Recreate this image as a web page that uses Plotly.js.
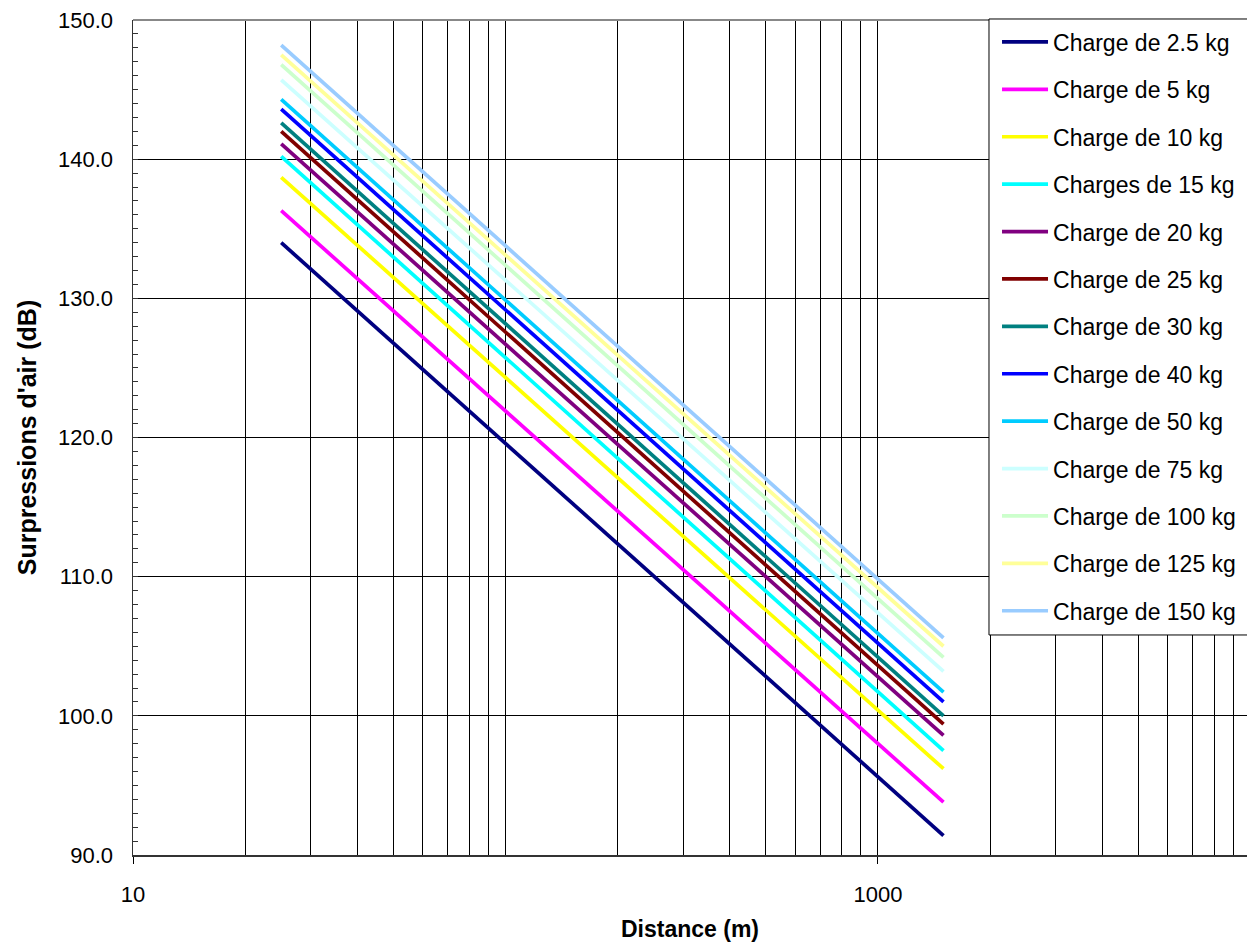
<!DOCTYPE html>
<html><head><meta charset="utf-8">
<script src="https://cdn.plot.ly/plotly-3.0.1.min.js"></script>
<style>html,body{margin:0;padding:0;background:#fff}</style>
</head><body>
<div id="chart" style="width:1247px;height:948px"></div>
<script>
// Distances (m) at the ends of each straight (log-x) line
const distance = [25, 1500];

// Air overpressure (dB) read at 25 m and 1500 m
const charge2_5 = [134.0, 91.4];
const charge5   = [136.3, 93.8];
const charge10  = [138.7, 96.2];
const charge15  = [140.2, 97.5];
const charge20  = [141.1, 98.6];
const charge25  = [142.0, 99.4];
const charge30  = [142.6, 100.0];
const charge40  = [143.6, 101.0];
const charge50  = [144.3, 101.7];
const charge75  = [145.7, 103.2];
const charge100 = [146.8, 104.2];
const charge125 = [147.5, 105.0];
const charge150 = [148.2, 105.6];

const seriesNames = ["Charge de 2.5 kg","Charge de 5 kg","Charge de 10 kg","Charges de 15 kg",
  "Charge de 20 kg","Charge de 25 kg","Charge de 30 kg","Charge de 40 kg","Charge de 50 kg",
  "Charge de 75 kg","Charge de 100 kg","Charge de 125 kg","Charge de 150 kg"];
const seriesValues = [charge2_5, charge5, charge10, charge15, charge20, charge25, charge30,
  charge40, charge50, charge75, charge100, charge125, charge150];
const seriesColors = ["#000080","#FF00FF","#FFFF00","#00FFFF","#800080","#800000","#008080",
  "#0000FF","#00CCFF","#CCFFFF","#CCFFCC","#FFFF99","#99CCFF"];

const xTickVals = [10, 1000];
const xTickText = ["10", "1000"];
const xGridVals = [20,30,40,50,60,70,80,90,100,200,300,400,500,600,700,800,900,
  2000,3000,4000,5000,6000,7000,8000,9000];
const yTickVals = [90,100,110,120,130,140,150];

const FONT = "Arial, 'Liberation Sans', sans-serif";

const traces = seriesNames.map((n, i) => ({
  x: distance, y: seriesValues[i], name: n, type: "scatter", mode: "lines",
  legendgroup: "g" + i,
  line: {color: seriesColors[i], width: 3.7}
}));

const layout = {
  width: 1247, height: 948,
  margin: {l: 133, r: 0, t: 20, b: 93, pad: 0},
  paper_bgcolor: "#fff", plot_bgcolor: "#fff",
  font: {family: FONT, color: "#000", size: 22},
  showlegend: true,
  legend: {
    x: 0.7756, y: 0.9994, xanchor: "left", yanchor: "top",
    bgcolor: "rgba(0,0,0,0)", borderwidth: 0, maxheight: 800,
    font: {family: FONT, size: 23, color: "#000"},
    itemwidth: 46, tracegroupgap: 14.5, traceorder: "grouped"
  },
  xaxis: {
    type: "log", range: [1, 3.991],
    tickvals: xTickVals, ticktext: xTickText,
    ticks: "outside", ticklen: 7, tickcolor: "#000", tickwidth: 1,
    showgrid: true, gridcolor: "#000", gridwidth: 1,
    minor: {tickvals: xGridVals, showgrid: true, gridcolor: "#000", gridwidth: 1, ticks: ""},
    showline: true, linecolor: "#333", linewidth: 1.5,
    zeroline: false, ticklabelstandoff: 12,
    tickfont: {family: FONT, size: 22},
    title: {text: "<b>Distance (m)</b>", font: {family: FONT, size: 23}, standoff: 15}
  },
  yaxis: {
    range: [90, 150], tickvals: yTickVals, tickformat: ".1f",
    ticks: "inside", ticklen: 5, tickcolor: "#333",
    minor: {dtick: 1, ticks: "inside", ticklen: 5, tickcolor: "#333", showgrid: false},
    showgrid: true, gridcolor: "#000", gridwidth: 1,
    showline: true, linecolor: "#333", linewidth: 1.5,
    zeroline: false, ticklabelstandoff: 14,
    tickfont: {family: FONT, size: 22},
    title: {text: "<b>Surpressions d'air (dB)</b>", font: {family: FONT, size: 25}, standoff: 14}
  },
  shapes: [
    {type: "line", xref: "paper", yref: "paper", x0: 0, x1: 1, y0: 1, y1: 1,
     line: {color: "#888", width: 2}},
    {type: "rect", xref: "paper", yref: "paper", layer: "above",
     x0: 0.7684, x1: 1.02, y0: 0.2635, y1: 1.0012,
     fillcolor: "#fff", line: {color: "#000", width: 1}}
  ]
};

Plotly.newPlot("chart", traces, layout, {displayModeBar: false, staticPlot: true});
</script>
</body></html>
